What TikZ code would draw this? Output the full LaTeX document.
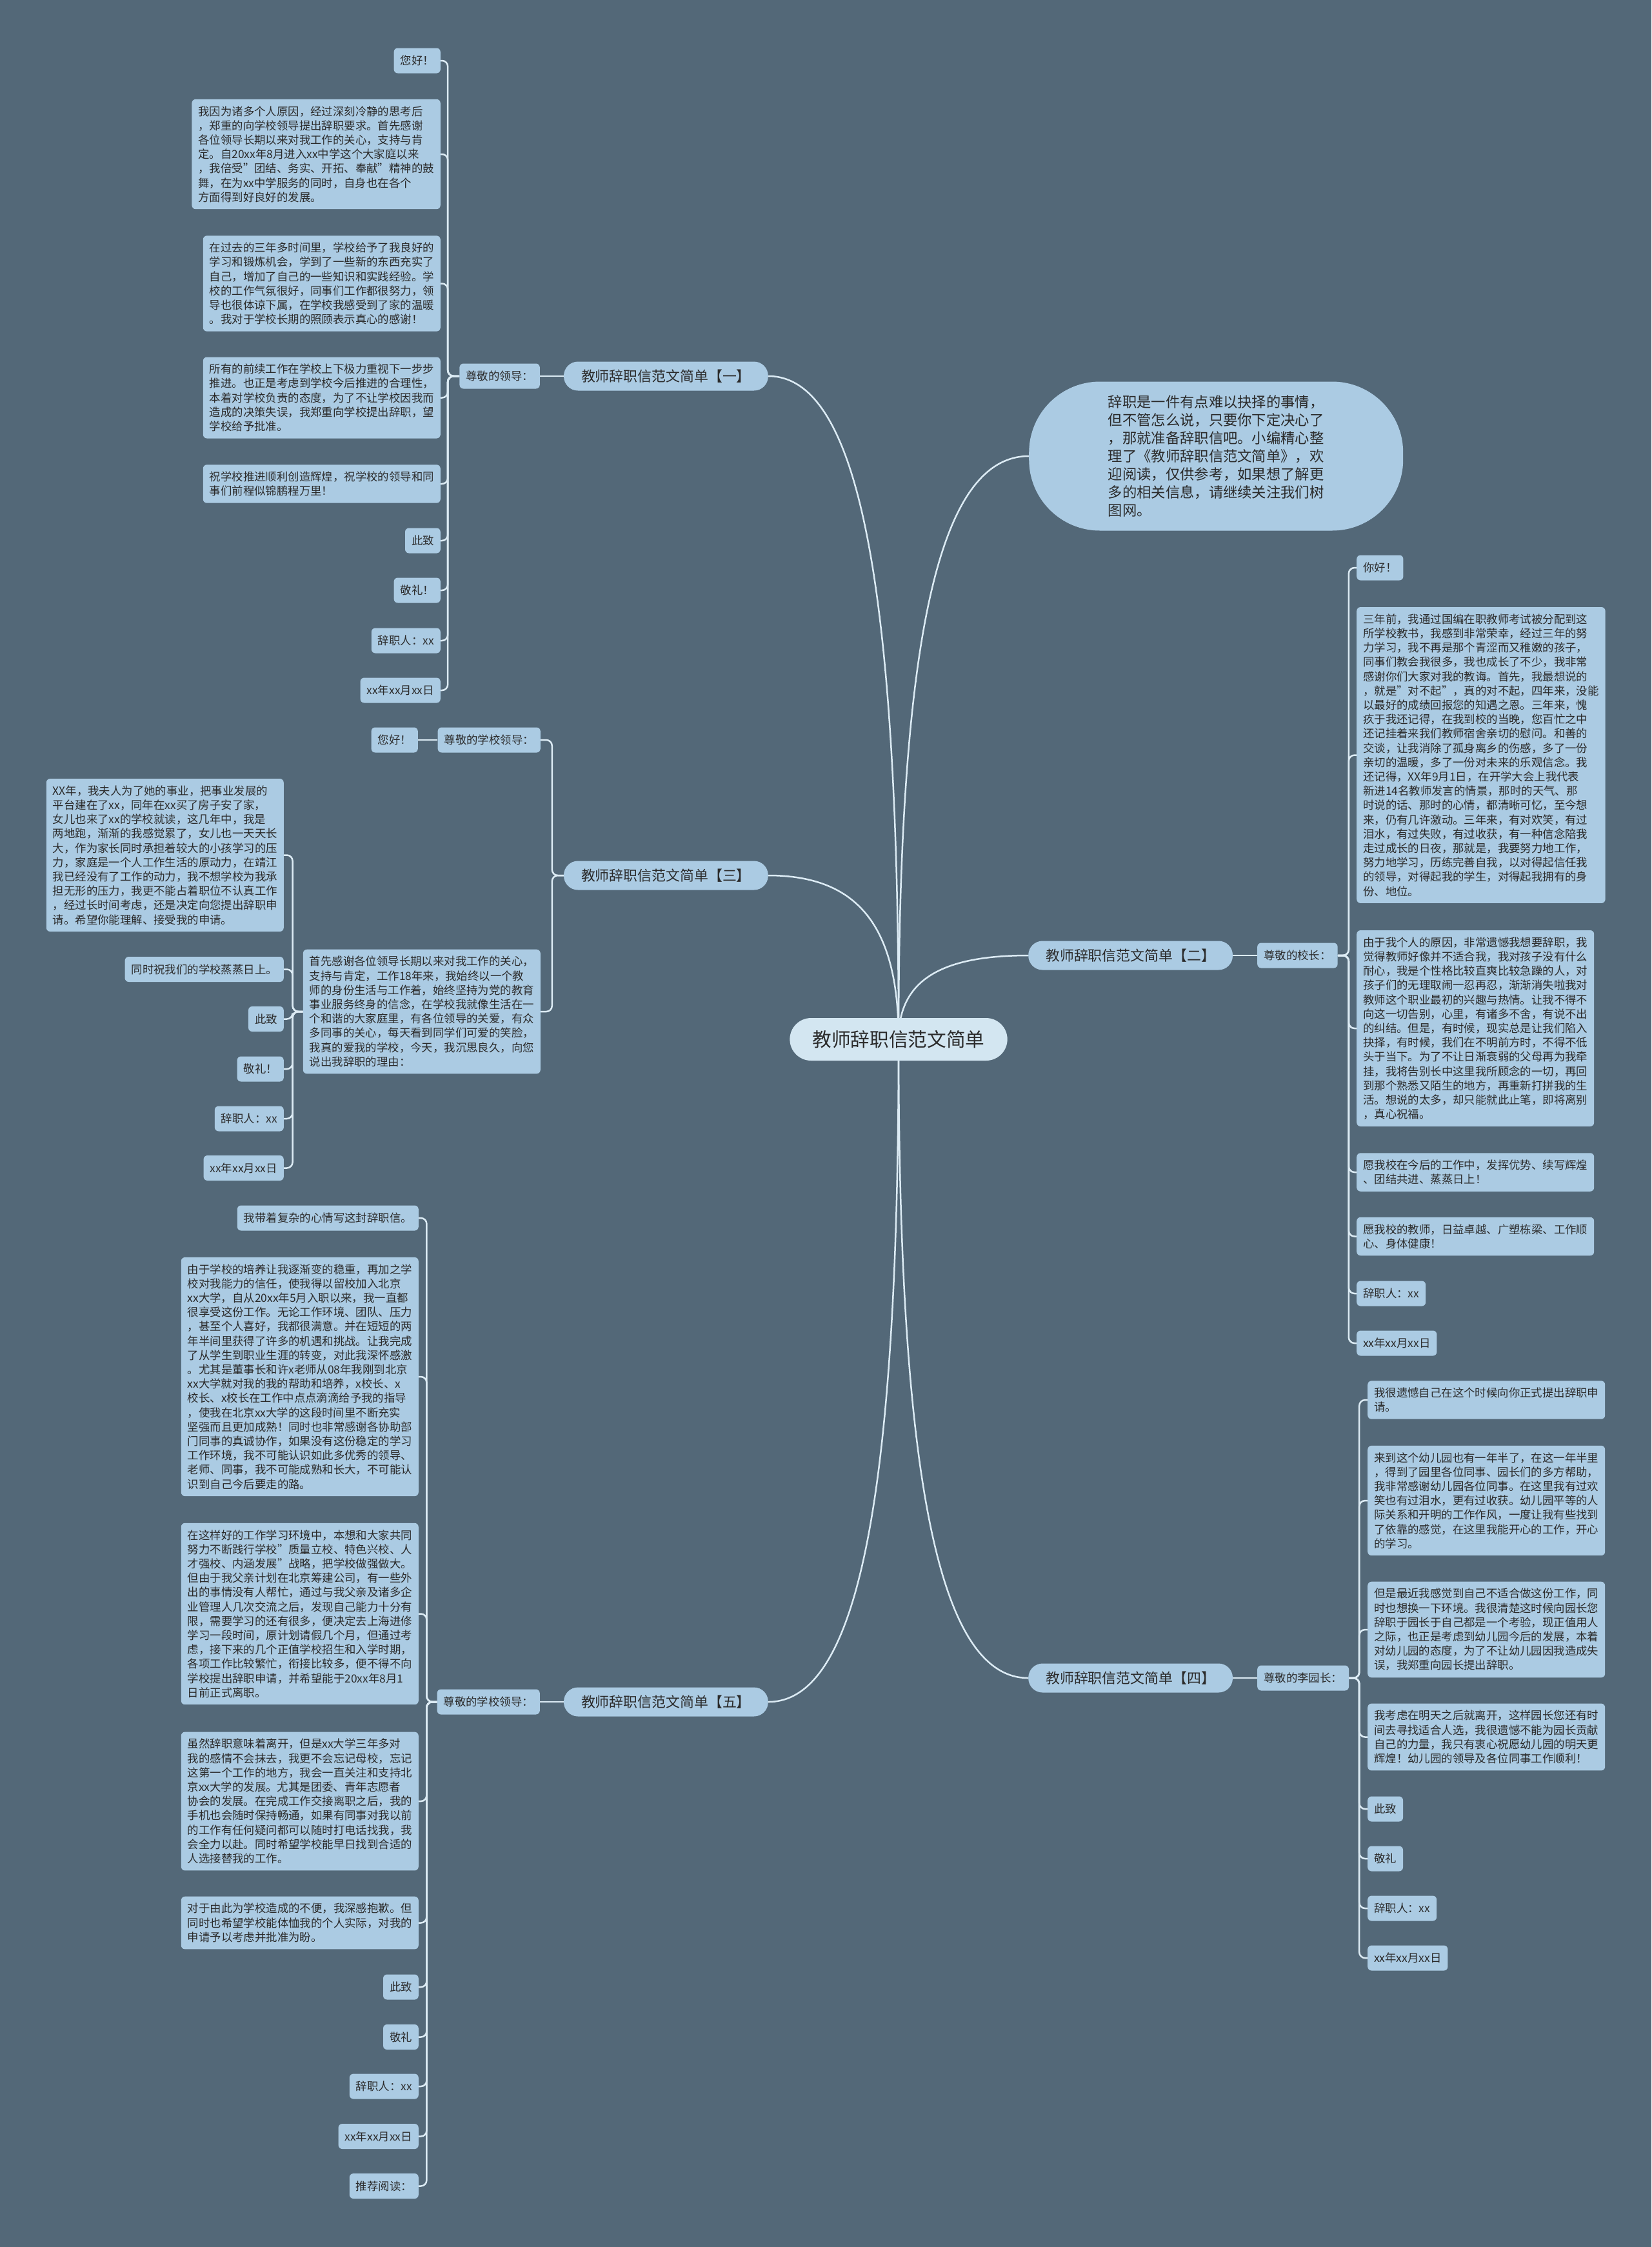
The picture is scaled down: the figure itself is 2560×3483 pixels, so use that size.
\documentclass[tikz,border=0pt]{standalone}
\usepackage{fontspec}
\setmainfont{Noto Sans CJK SC}
\definecolor{bgc}{HTML}{536878}
\definecolor{leafc}{HTML}{ABCBE3}
\definecolor{rootc}{HTML}{D3E6F1}
\definecolor{linec}{HTML}{DCEBF4}
\definecolor{txtc}{HTML}{2B2B2B}
\pgfdeclarelayer{bglayer}
\pgfdeclarelayer{edgelayer}
\pgfsetlayers{bglayer,edgelayer,main}
\tikzset{
  leaf/.style={fill=leafc, rounded corners=6pt, inner xsep=10pt, inner ysep=10.5pt, minimum height=39pt, align=left, font=\fontsize{17.4}{22.2}\selectfont, text=txtc},
  branch/.style={fill=leafc, rounded corners=22pt, minimum height=45pt, inner xsep=27pt, font=\fontsize{21.9}{26}\selectfont, text=txtc},
  rootnode/.style={fill=rootc, rounded corners=33pt, minimum height=66pt, inner xsep=35pt, font=\fontsize{29.7}{34}\selectfont, text=txtc},
  intro/.style={fill=leafc, rounded corners=110pt, minimum width=580pt, minimum height=231pt, align=left, font=\fontsize{22.3}{28}\selectfont, text=txtc},
  conn/.style={draw=linec, line width=2.5pt, rounded corners=9pt},
  curve/.style={draw=linec, line width=2.5pt}
}
\begin{document}
\begin{tikzpicture}[x=1pt,y=-1pt]
\useasboundingbox (0,0) rectangle (2560,3483);
\begin{pgfonlayer}{bglayer}
\fill[bgc] (0,0) rectangle (2560,3483);
\end{pgfonlayer}

% root
\node[rootnode] (root) at (1393,1611) {教师辞职信范文简单};

% intro
\node[intro, anchor=west] (intro) at (1595,707) {辞职是一件有点难以抉择的事情，\\但不管怎么说，只要你下定决心了\\，那就准备辞职信吧。小编精心整\\理了《教师辞职信范文简单》，欢\\迎阅读，仅供参考，如果想了解更\\多的相关信息，请继续关注我们树\\图网。};

% ===== branch 1 =====
\node[branch, anchor=east] (b1) at (1191,583) {教师辞职信范文简单【一】};
\node[leaf, anchor=east] (l1) at (837,583) {尊敬的领导：};
\node[leaf, anchor=east] (a1) at (683,94) {您好！};
\node[leaf, anchor=east] (a2) at (683,239) {我因为诸多个人原因，经过深刻冷静的思考后\\，郑重的向学校领导提出辞职要求。首先感谢\\各位领导长期以来对我工作的关心，支持与肯\\定。自20xx年8月进入xx中学这个大家庭以来\\，我倍受"团结、务实、开拓、奉献"精神的鼓\\舞，在为xx中学服务的同时，自身也在各个\\方面得到好良好的发展。};
\node[leaf, anchor=east] (a3) at (683,439.5) {在过去的三年多时间里，学校给予了我良好的\\学习和锻炼机会，学到了一些新的东西充实了\\自己，增加了自己的一些知识和实践经验。学\\校的工作气氛很好，同事们工作都很努力，领\\导也很体谅下属，在学校我感受到了家的温暖\\。我对于学校长期的照顾表示真心的感谢！};
\node[leaf, anchor=east] (a4) at (683,616.5) {所有的前续工作在学校上下极力重视下一步步\\推进。也正是考虑到学校今后推进的合理性，\\本着对学校负责的态度，为了不让学校因我而\\造成的决策失误，我郑重向学校提出辞职，望\\学校给予批准。};
\node[leaf, anchor=east] (a5) at (683,750) {祝学校推进顺利创造辉煌，祝学校的领导和同\\事们前程似锦鹏程万里！};
\node[leaf, anchor=east] (a6) at (683,838) {此致};
\node[leaf, anchor=east] (a7) at (683,915) {敬礼！};
\node[leaf, anchor=east] (a8) at (683,993) {辞职人：xx};
\node[leaf, anchor=east] (a9) at (683,1070) {xx年xx月xx日};

% ===== branch 3 =====
\node[branch, anchor=east] (b3) at (1191,1357) {教师辞职信范文简单【三】};
\node[leaf, anchor=east] (l3) at (838,1147) {尊敬的学校领导：};
\node[leaf, anchor=east] (h3) at (648,1147) {您好！};
\node[leaf, anchor=east] (p3) at (838,1568) {首先感谢各位领导长期以来对我工作的关心，\\支持与肯定，工作18年来，我始终以一个教\\师的身份生活与工作着，始终坚持为党的教育\\事业服务终身的信念，在学校我就像生活在一\\个和谐的大家庭里，有各位领导的关爱，有众\\多同事的关心，每天看到同学们可爱的笑脸，\\我真的爱我的学校，今天，我沉思良久，向您\\说出我辞职的理由：};
\node[leaf, anchor=east] (c1) at (440,1325.5) {XX年，我夫人为了她的事业，把事业发展的\\平台建在了xx，同年在xx买了房子安了家，\\女儿也来了xx的学校就读，这几年中，我是\\两地跑，渐渐的我感觉累了，女儿也一天天长\\大，作为家长同时承担着较大的小孩学习的压\\力，家庭是一个人工作生活的原动力，在靖江\\我已经没有了工作的动力，我不想学校为我承\\担无形的压力，我更不能占着职位不认真工作\\，经过长时间考虑，还是决定向您提出辞职申\\请。希望你能理解、接受我的申请。};
\node[leaf, anchor=east] (c2) at (440,1502.5) {同时祝我们的学校蒸蒸日上。};
\node[leaf, anchor=east] (c3) at (440,1579.5) {此致};
\node[leaf, anchor=east] (c4) at (440,1657) {敬礼！};
\node[leaf, anchor=east] (c5) at (440,1734) {辞职人：xx};
\node[leaf, anchor=east] (c6) at (440,1810.5) {xx年xx月xx日};

% ===== branch 5 =====
\node[branch, anchor=east] (b5) at (1191,2638) {教师辞职信范文简单【五】};
\node[leaf, anchor=east] (l5) at (837,2638) {尊敬的学校领导：};
\node[leaf, anchor=east] (e1) at (649,1888) {我带着复杂的心情写这封辞职信。};
\node[leaf, anchor=east] (e2) at (649,2134) {由于学校的培养让我逐渐变的稳重，再加之学\\校对我能力的信任，使我得以留校加入北京\\xx大学，自从20xx年5月入职以来，我一直都\\很享受这份工作。无论工作环境、团队、压力\\，甚至个人喜好，我都很满意。并在短短的两\\年半间里获得了许多的机遇和挑战。让我完成\\了从学生到职业生涯的转变，对此我深怀感激\\。尤其是董事长和许x老师从08年我刚到北京\\xx大学就对我的我的帮助和培养，x校长、x\\校长、x校长在工作中点点滴滴给予我的指导\\，使我在北京xx大学的这段时间里不断充实\\坚强而且更加成熟！同时也非常感谢各协助部\\门同事的真诚协作，如果没有这份稳定的学习\\工作环境，我不可能认识如此多优秀的领导、\\老师、同事，我不可能成熟和长大，不可能认\\识到自己今后要走的路。};
\node[leaf, anchor=east] (e3) at (649,2501.5) {在这样好的工作学习环境中，本想和大家共同\\努力不断践行学校"质量立校、特色兴校、人\\才强校、内涵发展"战略，把学校做强做大。\\但由于我父亲计划在北京筹建公司，有一些外\\出的事情没有人帮忙，通过与我父亲及诸多企\\业管理人几次交流之后，发现自己能力十分有\\限，需要学习的还有很多，便决定去上海进修\\学习一段时间，原计划请假几个月，但通过考\\虑，接下来的几个正值学校招生和入学时期，\\各项工作比较繁忙，衔接比较多，便不得不向\\学校提出辞职申请，并希望能于20xx年8月1\\日前正式离职。};
\node[leaf, anchor=east] (e4) at (649,2792) {虽然辞职意味着离开，但是xx大学三年多对\\我的感情不会抹去，我更不会忘记母校，忘记\\这第一个工作的地方，我会一直关注和支持北\\京xx大学的发展。尤其是团委、青年志愿者\\协会的发展。在完成工作交接离职之后，我的\\手机也会随时保持畅通，如果有同事对我以前\\的工作有任何疑问都可以随时打电话找我，我\\会全力以赴。同时希望学校能早日找到合适的\\人选接替我的工作。};
\node[leaf, anchor=east] (e5) at (649,2980.5) {对于由此为学校造成的不便，我深感抱歉。但\\同时也希望学校能体恤我的个人实际，对我的\\申请予以考虑并批准为盼。};
\node[leaf, anchor=east] (e6) at (649,3080) {此致};
\node[leaf, anchor=east] (e7) at (649,3157.5) {敬礼};
\node[leaf, anchor=east] (e8) at (649,3234) {辞职人：xx};
\node[leaf, anchor=east] (e9) at (649,3311.5) {xx年xx月xx日};
\node[leaf, anchor=east] (e10) at (649,3388.5) {推荐阅读：};

% ===== branch 2 =====
\node[branch, anchor=west] (b2) at (1594,1481) {教师辞职信范文简单【二】};
\node[leaf, anchor=west] (l2) at (1949,1481) {尊敬的校长：};
\node[leaf, anchor=west] (d1) at (2103,880) {你好！};
\node[leaf, anchor=west] (d2) at (2103,1170.5) {三年前，我通过国编在职教师考试被分配到这\\所学校教书，我感到非常荣幸，经过三年的努\\力学习，我不再是那个青涩而又稚嫩的孩子，\\同事们教会我很多，我也成长了不少，我非常\\感谢你们大家对我的教诲。首先，我最想说的\\，就是"对不起"，真的对不起，四年来，没能\\以最好的成绩回报您的知遇之恩。三年来，愧\\疚于我还记得，在我到校的当晚，您百忙之中\\还记挂着来我们教师宿舍亲切的慰问。和善的\\交谈，让我消除了孤身离乡的伤感，多了一份\\亲切的温暖，多了一份对未来的乐观信念。我\\还记得，XX年9月1日，在开学大会上我代表\\新进14名教师发言的情景，那时的天气、那\\时说的话、那时的心情，都清晰可忆，至今想\\来，仍有几许激动。三年来，有对欢笑，有过\\泪水，有过失败，有过收获，有一种信念陪我\\走过成长的日夜，那就是，我要努力地工作，\\努力地学习，历练完善自我，以对得起信任我\\的领导，对得起我的学生，对得起我拥有的身\\份、地位。};
\node[leaf, anchor=west] (d3) at (2103,1594) {由于我个人的原因，非常遗憾我想要辞职，我\\觉得教师好像并不适合我，我对孩子没有什么\\耐心，我是个性格比较直爽比较急躁的人，对\\孩子们的无理取闹一忍再忍，渐渐消失啦我对\\教师这个职业最初的兴趣与热情。让我不得不\\向这一切告别，心里，有诸多不舍，有说不出\\的纠结。但是，有时候，现实总是让我们陷入\\抉择，有时候，我们在不明前方时，不得不低\\头于当下。为了不让日渐衰弱的父母再为我牵\\挂，我将告别长中这里我所顾念的一切，再回\\到那个熟悉又陌生的地方，再重新打拼我的生\\活。想说的太多，却只能就此止笔，即将离别\\，真心祝福。};
\node[leaf, anchor=west] (d4) at (2103,1817) {愿我校在今后的工作中，发挥优势、续写辉煌\\、团结共进、蒸蒸日上！};
\node[leaf, anchor=west] (d5) at (2103,1916.5) {愿我校的教师，日益卓越、广塑栋梁、工作顺\\心、身体健康！};
\node[leaf, anchor=west] (d6) at (2103,2005) {辞职人：xx};
\node[leaf, anchor=west] (d7) at (2103,2082) {xx年xx月xx日};

% ===== branch 4 =====
\node[branch, anchor=west] (b4) at (1594,2601) {教师辞职信范文简单【四】};
\node[leaf, anchor=west] (l4) at (1949,2601) {尊敬的李园长：};
\node[leaf, anchor=west] (f1) at (2120,2170) {我很遗憾自己在这个时候向你正式提出辞职申\\请。};
\node[leaf, anchor=west] (f2) at (2120,2326) {来到这个幼儿园也有一年半了，在这一年半里\\，得到了园里各位同事、园长们的多方帮助，\\我非常感谢幼儿园各位同事。在这里我有过欢\\笑也有过泪水，更有过收获。幼儿园平等的人\\际关系和开明的工作作风，一度让我有些找到\\了依靠的感觉，在这里我能开心的工作，开心\\的学习。};
\node[leaf, anchor=west] (f3) at (2120,2526) {但是最近我感觉到自己不适合做这份工作，同\\时也想换一下环境。我很清楚这时候向园长您\\辞职于园长于自己都是一个考验，现正值用人\\之际，也正是考虑到幼儿园今后的发展，本着\\对幼儿园的态度，为了不让幼儿园因我造成失\\误，我郑重向园长提出辞职。};
\node[leaf, anchor=west] (f4) at (2120,2692.5) {我考虑在明天之后就离开，这样园长您还有时\\间去寻找适合人选，我很遗憾不能为园长贡献\\自己的力量，我只有衷心祝愿幼儿园的明天更\\辉煌！幼儿园的领导及各位同事工作顺利！};
\node[leaf, anchor=west] (f5) at (2120,2804) {此致};
\node[leaf, anchor=west] (f6) at (2120,2881) {敬礼};
\node[leaf, anchor=west] (f7) at (2120,2958) {辞职人：xx};
\node[leaf, anchor=west] (f8) at (2120,3035) {xx年xx月xx日};

% ===== connectors =====
\begin{pgfonlayer}{edgelayer}
\draw[curve] (root.center) .. controls (1393,902) and (1330,583) .. (b1.east);
\draw[curve] (root.center) .. controls (1393,1436) and (1330,1357) .. (b3.east);
\draw[curve] (root.center) .. controls (1393,2321) and (1330,2638) .. (b5.east);
\draw[curve] (root.center) .. controls (1393,987) and (1456,707) .. (intro.west);
\draw[curve] (root.center) .. controls (1393,1521) and (1456,1481) .. (b2.west);
\draw[curve] (root.center) .. controls (1393,2294) and (1456,2601) .. (b4.west);

% branch 1
\draw[conn] (b1.west) -- (l1.east);
\foreach \n in {a1,a2,a3,a4,a5,a6,a7,a8,a9}
  \draw[conn] (l1.west) -- ++(-18,0) |- (\n.east);
% branch 3
\draw[conn] (b3.west) -- ++(-18,0) |- (l3.east);
\draw[conn] (b3.west) -- ++(-18,0) |- (p3.east);
\draw[conn] (l3.west) -- (h3.east);
\foreach \n in {c1,c2,c3,c4,c5,c6}
  \draw[conn] (p3.west) -- ++(-16,0) |- (\n.east);
% branch 5
\draw[conn] (b5.west) -- (l5.east);
\foreach \n in {e1,e2,e3,e4,e5,e6,e7,e8,e9,e10}
  \draw[conn] (l5.west) -- ++(-16,0) |- (\n.east);
% branch 2
\draw[conn] (b2.east) -- (l2.west);
\foreach \n in {d1,d2,d3,d4,d5,d6,d7}
  \draw[conn] (l2.east) -- ++(17,0) |- (\n.west);
% branch 4
\draw[conn] (b4.east) -- (l4.west);
\foreach \n in {f1,f2,f3,f4,f5,f6,f7,f8}
  \draw[conn] (l4.east) -- ++(16,0) |- (\n.west);
\end{pgfonlayer}
\end{tikzpicture}
\end{document}
